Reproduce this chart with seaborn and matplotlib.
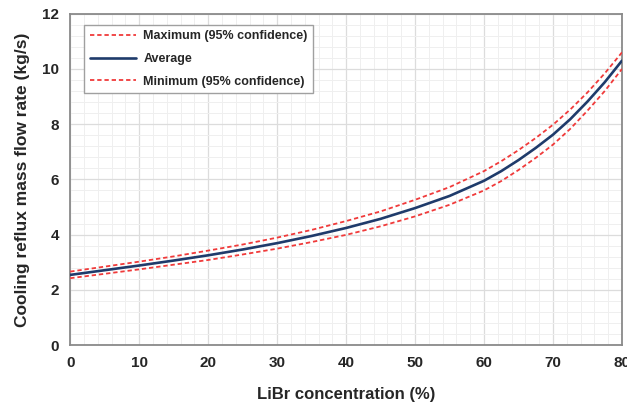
import numpy as np
import pandas as pd
import matplotlib
matplotlib.use("Agg")
import matplotlib.pyplot as plt
from matplotlib.ticker import MultipleLocator
import seaborn as sns

# LiBr concentration (%)
concentration = [0, 5, 10, 15, 20, 25, 30, 35, 40, 45, 50, 55, 60, 62.5, 65, 67.5, 70, 72.5, 75, 77.5, 80]
# Cooling reflux mass flow rate (kg/s)
flow_avg = [2.54, 2.71, 2.88, 3.06, 3.25, 3.46, 3.69, 3.95, 4.24, 4.57, 4.96, 5.40, 5.95,
            6.30, 6.70, 7.14, 7.62, 8.18, 8.82, 9.52, 10.30]
flow_max = [2.66, 2.84, 3.02, 3.21, 3.42, 3.64, 3.89, 4.17, 4.49, 4.84, 5.26, 5.72, 6.30,
            6.66, 7.06, 7.50, 7.98, 8.53, 9.15, 9.84, 10.60]
flow_min = [2.42, 2.58, 2.74, 2.91, 3.08, 3.28, 3.49, 3.73, 3.99, 4.30, 4.66, 5.08, 5.60,
            5.94, 6.34, 6.78, 7.26, 7.83, 8.49, 9.20, 10.00]

series_labels = ["Maximum (95% confidence)", "Average", "Minimum (95% confidence)"]

n = len(concentration)
df = pd.DataFrame({
    "x": concentration * 3,
    "y": flow_max + flow_avg + flow_min,
    "series": [series_labels[0]] * n + [series_labels[1]] * n + [series_labels[2]] * n,
})

sns.set_theme(style="white")
plt.rcParams["font.family"] = ["Liberation Sans", "DejaVu Sans"]
plt.rcParams["font.weight"] = "bold"

fig = plt.figure(figsize=(6.27, 4.04), dpi=100)
ax = fig.add_axes([0.112, 0.146, 0.880, 0.820])

red = "#f03a3a"
navy = "#1f3b6b"
palette = {series_labels[0]: red, series_labels[1]: navy, series_labels[2]: red}
dashes = {series_labels[0]: (2.4, 1.6), series_labels[1]: "", series_labels[2]: (2.4, 1.6)}
sizes = {series_labels[0]: 1.3, series_labels[1]: 1.9, series_labels[2]: 1.3}

sns.lineplot(data=df, x="x", y="y", hue="series", style="series", size="series",
             palette=palette, dashes=dashes, sizes=sizes, hue_order=series_labels,
             style_order=series_labels, size_order=series_labels, ax=ax, zorder=3)

ax.set_xlim(0, 80)
ax.set_ylim(0, 12)
ax.xaxis.set_major_locator(MultipleLocator(10))
ax.xaxis.set_minor_locator(MultipleLocator(2))
ax.yaxis.set_major_locator(MultipleLocator(2))
ax.yaxis.set_minor_locator(MultipleLocator(0.4))
ax.grid(which="major", color="#dcdcdc", linewidth=0.9)
ax.grid(which="minor", color="#efefef", linewidth=0.7)
ax.set_axisbelow(True)
ax.tick_params(which="both", length=0, labelsize=11, pad=8)
for lab in ax.get_xticklabels() + ax.get_yticklabels():
    lab.set_fontweight("bold")

for s in ax.spines.values():
    s.set_visible(True)
    s.set_color("#8a8a8a")
    s.set_linewidth(1.3)

ax.set_xlabel("LiBr concentration (%)", fontsize=12, fontweight="bold", labelpad=12)
ax.set_ylabel("Cooling reflux mass flow rate (kg/s)", fontsize=12.5, fontweight="bold", labelpad=9)

handles, labels = ax.get_legend_handles_labels()
leg = ax.legend(handles, labels, loc="upper left", bbox_to_anchor=(0.025, 0.967),
                borderaxespad=0, frameon=True, fancybox=False, edgecolor="#a0a0a0",
                framealpha=1, handlelength=3.7, handletextpad=0.6, labelspacing=0.85,
                borderpad=0.45, prop={"weight": "bold", "size": 9})
leg.get_frame().set_linewidth(1.0)

fig.savefig("out.png", dpi=100)
